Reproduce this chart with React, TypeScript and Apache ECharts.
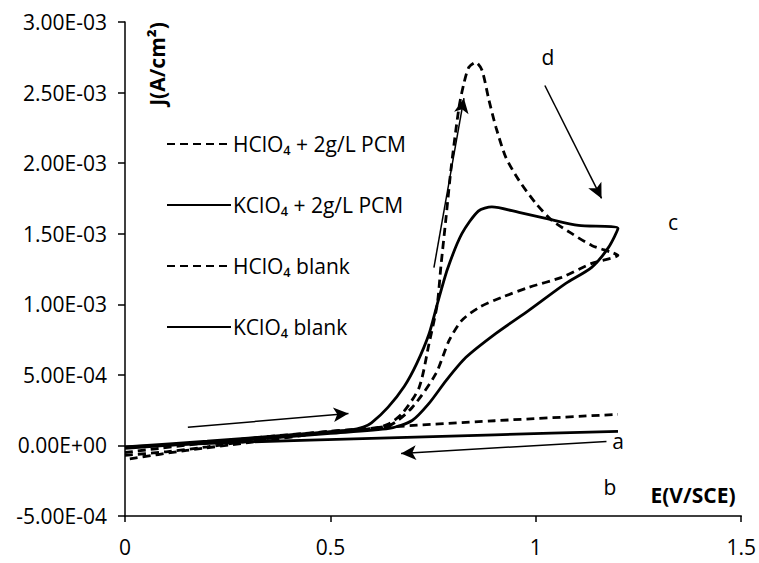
import React, { useEffect, useRef } from "react";
import * as echarts from "echarts";

// Potential (V/SCE) and current density (x1e-3 A/cm²)
const hclo4PcmE = [0, 0.1, 0.2, 0.3, 0.4, 0.5, 0.6, 0.64, 0.675, 0.716, 0.74, 0.76, 0.769, 0.782, 0.794, 0.813, 0.825, 0.837, 0.854, 0.869, 0.886, 0.903, 0.927, 0.959, 1.0, 1.039, 1.087, 1.136, 1.184, 1.2,
  1.136, 1.063, 0.983, 0.917, 0.862, 0.82, 0.789, 0.757, 0.699, 0.643, 0.5, 0.3, 0.15, 0];
const hclo4PcmJ = [-0.07, -0.045, -0.01, 0.03, 0.07, 0.1, 0.12, 0.15, 0.227, 0.411, 0.72, 1.0, 1.27, 1.63, 1.97, 2.395, 2.566, 2.679, 2.714, 2.658, 2.445, 2.254, 2.041, 1.878, 1.715, 1.595, 1.502, 1.417, 1.368, 1.347,
  1.29, 1.191, 1.12, 1.049, 0.978, 0.886, 0.744, 0.51, 0.269, 0.142, 0.095, 0.02, -0.035, -0.1];

const kclo4PcmE = [0, 0.2, 0.4, 0.55, 0.58, 0.6, 0.64, 0.68, 0.71, 0.74, 0.76, 0.785, 0.82, 0.86, 0.893, 0.959, 1.024, 1.104, 1.2,
  1.177, 1.136, 1.073, 0.983, 0.903, 0.83, 0.782, 0.74, 0.699, 0.643, 0.5, 0.3, 0];
const kclo4PcmJ = [-0.01, 0.03, 0.075, 0.11, 0.13, 0.16, 0.27, 0.42, 0.58, 0.79, 1.0, 1.25, 1.5, 1.66, 1.69, 1.651, 1.609, 1.559, 1.538,
  1.403, 1.262, 1.148, 0.957, 0.794, 0.624, 0.461, 0.298, 0.177, 0.12, 0.085, 0.04, -0.02];

const hclo4BlankE = [0, 0.3, 0.63, 0.9, 1.2];
const hclo4BlankJ = [-0.05, 0.05, 0.128, 0.175, 0.22];

const kclo4BlankE = [0, 0.3, 0.6, 0.9, 1.2];
const kclo4BlankJ = [-0.01, 0.025, 0.05, 0.075, 0.1];

const seriesNames = ["HClO₄ + 2g/L PCM", "KClO₄ + 2g/L PCM", "HClO₄ blank", "KClO₄ blank"];

// Annotation arrows [E1, J1, E2, J2] (J in 1e-3 A/cm²)
const arrows = [
  [0.153, 0.128, 0.544, 0.227],
  [1.172, 0.028, 0.672, -0.057],
  [0.752, 1.26, 0.825, 2.46],
  [1.022, 2.55, 1.16, 1.75],
];

const xTicks = { min: 0, max: 1.5, interval: 0.5 };
const yTicks = { min: -0.0005, max: 0.003, interval: 0.0005 };

const pairs = (xs: number[], ys: number[]) => xs.map((x, i) => [x, ys[i] * 1e-3]);

const fmtExp = (v: number) => {
  if (Math.abs(v) < 1e-12) return "0.00E+00";
  const s = v.toExponential(2);
  const [m, e] = s.split("e");
  const sign = e[0] === "-" ? "-" : "+";
  const d = e.replace(/[+-]/, "").padStart(2, "0");
  return m + "E" + sign + d;
};

const FONT = "'Open Sans', 'DejaVu Sans', sans-serif";

export default function App() {
  const ref = useRef<HTMLDivElement>(null);
  useEffect(() => {
    if (!ref.current) return;
    const chart = echarts.init(ref.current, undefined, { renderer: "svg" });
    const dashed = { color: "#000", width: 2.8, type: [8, 5] as any };
    const solid = { color: "#000", width: 2.8, type: "solid" as any };
    const common = {
      type: "line",
      showSymbol: false,
      symbol: "none",
      smooth: 0.25,
      color: "#000",
      silent: true,
    };
    chart.setOption({
      animation: false,
      backgroundColor: "#fff",
      grid: { left: 125, right: 17, top: 22, bottom: 47 },
      legend: {
        orient: "vertical",
        left: 161,
        top: 128,
        itemWidth: 64,
        itemHeight: 22,
        itemGap: 39,
        selectedMode: false,
        data: seriesNames,
        itemStyle: { opacity: 0, borderWidth: 0 },
        textStyle: { fontFamily: FONT, fontSize: 21, color: "#000", lineHeight: 22, padding: [0, 0, 0, -3] },
      },
      xAxis: {
        type: "value",
        ...xTicks,
        axisLine: { onZero: false, lineStyle: { color: "#000", width: 1.5 } },
        axisTick: { show: true, length: 6, inside: false, lineStyle: { color: "#000", width: 1.5 } },
        splitLine: { show: false },
        axisLabel: { color: "#000", fontFamily: FONT, fontSize: 21, margin: 20 },
      },
      yAxis: {
        type: "value",
        ...yTicks,
        axisLine: { show: true, onZero: false, lineStyle: { color: "#000", width: 1.5 } },
        axisTick: { show: true, length: 7, lineStyle: { color: "#000", width: 1.5 } },
        splitLine: { show: false },
        axisLabel: { color: "#000", fontFamily: FONT, fontSize: 21, margin: 18, formatter: (v: number) => fmtExp(v) },
      },
      series: [
        { ...common, name: seriesNames[0], data: pairs(hclo4PcmE, hclo4PcmJ), lineStyle: dashed },
        { ...common, name: seriesNames[1], data: pairs(kclo4PcmE, kclo4PcmJ), lineStyle: solid },
        { ...common, name: seriesNames[2], data: pairs(hclo4BlankE, hclo4BlankJ), lineStyle: dashed },
        {
          ...common,
          name: seriesNames[3],
          data: pairs(kclo4BlankE, kclo4BlankJ),
          lineStyle: solid,
          markLine: {
            silent: true,
            symbol: ["none", "arrow"],
            symbolSize: [11, 15],
            label: { show: false },
            lineStyle: { color: "#000", width: 1.5, type: "solid" },
            data: arrows.map((a) => [
              { coord: [a[0], a[1] * 1e-3] },
              { coord: [a[2], a[3] * 1e-3] },
            ]),
          },
        },
      ],
      graphic: [
        {
          type: "text",
          x: 157,
          y: 64,
          rotation: Math.PI / 2,
          style: { text: "J(A/cm²)", fontFamily: FONT, fontSize: 21, fontWeight: "bold", fill: "#000", align: "center", verticalAlign: "middle" },
        },
        {
          type: "text",
          x: 693,
          y: 495,
          style: { text: "E(V/SCE)", fontFamily: FONT, fontSize: 21, fontWeight: "bold", fill: "#000", align: "center", verticalAlign: "middle" },
        },
        { type: "text", x: 548, y: 57, style: { text: "d", fontFamily: FONT, fontSize: 21, fill: "#000", align: "center", verticalAlign: "middle" } },
        { type: "text", x: 673, y: 222, style: { text: "c", fontFamily: FONT, fontSize: 21, fill: "#000", align: "center", verticalAlign: "middle" } },
        { type: "text", x: 618, y: 441, style: { text: "a", fontFamily: FONT, fontSize: 21, fill: "#000", align: "center", verticalAlign: "middle" } },
        { type: "text", x: 610, y: 487, style: { text: "b", fontFamily: FONT, fontSize: 21, fill: "#000", align: "center", verticalAlign: "middle" } },
      ],
    });
    return () => chart.dispose();
  }, []);
  return <div ref={ref} style={{ position: "absolute", left: 0, top: 0, width: 759, height: 563 }} />;
}
